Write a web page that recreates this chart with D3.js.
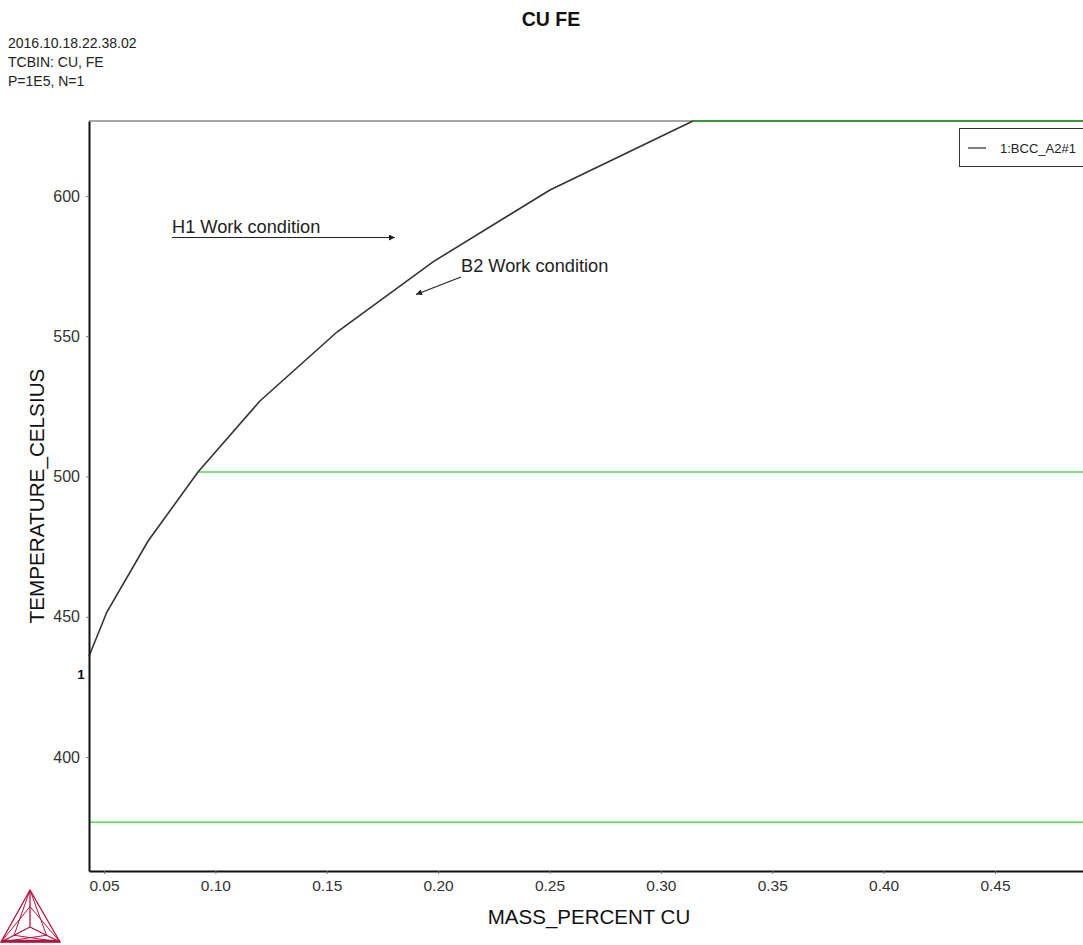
<!DOCTYPE html>
<html>
<head>
<meta charset="utf-8">
<script src="https://cdn.jsdelivr.net/npm/d3@7"></script>
<style>
  html, body { margin: 0; padding: 0; background: #fff; }
  svg { display: block; font-family: "Liberation Sans", Arial, sans-serif; }
</style>
</head>
<body>
<svg id="chart" width="1083" height="945"></svg>
<script>
// Phase boundary of BCC_A2#1 (mass percent Cu vs temperature in Celsius)
const massPercentCu = [0.0433, 0.0513, 0.0698, 0.0922, 0.1200, 0.1546, 0.1977, 0.2502, 0.3144];
const temperatureC  = [436.0, 451.7, 477.0, 501.6, 526.9, 551.5, 576.5, 602.1, 626.7];

// Horizontal invariant lines: [start x, temperature]
const invariantStartX = [0.0922, 0.0433, 0.3144];
const invariantTemp   = [501.6, 376.8, 626.7];

const xTicks = [0.05, 0.10, 0.15, 0.20, 0.25, 0.30, 0.35, 0.40, 0.45];
const yTicks = [400, 450, 500, 550, 600];
const xDomain = [0.04327, 0.4895];
const yDomain = [359.4, 626.7];

const headerLines = ["2016.10.18.22.38.02", "TCBIN: CU, FE", "P=1E5, N=1"];
const legendLabels = ["1:BCC_A2#1"];

const svg = d3.select("#chart");
const plotLeft = 89, plotRight = 1083, plotTop = 121, plotBottom = 871;

const x = d3.scaleLinear().domain(xDomain).range([plotLeft, plotRight]);
const y = d3.scaleLinear().domain(yDomain).range([plotBottom, plotTop]);

// Title and header
svg.append("text").attr("x", 551).attr("y", 26).attr("text-anchor", "middle")
  .attr("font-size", 19.5).attr("font-weight", "bold").attr("fill", "#111").text("CU FE");
headerLines.forEach((t, i) => {
  svg.append("text").attr("x", 8).attr("y", 48 + i * 19)
    .attr("font-size", 14).attr("fill", "#222").text(t);
});

// Top frame line
svg.append("line").attr("x1", plotLeft).attr("x2", plotRight).attr("y1", plotTop).attr("y2", plotTop)
  .attr("stroke", "#888").attr("stroke-width", 1.5);

// Invariant lines
invariantStartX.forEach((sx, i) => {
  const isTop = i === 2;
  svg.append("line")
    .attr("x1", x(sx)).attr("x2", plotRight)
    .attr("y1", y(invariantTemp[i])).attr("y2", y(invariantTemp[i]))
    .attr("stroke", isTop ? "#3a9a3a" : "#4be04b").attr("stroke-width", isTop ? 2 : 1.5);
});

// Phase boundary curve
const pts = massPercentCu.map((v, i) => [v, temperatureC[i]]);
svg.append("path").datum(pts)
  .attr("d", d3.line().x(d => x(d[0])).y(d => y(d[1])))
  .attr("fill", "none").attr("stroke", "#333").attr("stroke-width", 1.6);

// Axes
const xAxis = svg.append("g").attr("transform", `translate(0,${plotBottom})`)
  .call(d3.axisBottom(x).tickValues(xTicks).tickFormat(d3.format(".2f")).tickSize(3).tickSizeOuter(0));
xAxis.select(".domain").attr("stroke", "#111").attr("stroke-width", 2);
xAxis.selectAll(".tick line").attr("stroke", "#777");
xAxis.selectAll(".tick text").attr("font-size", 15.5).attr("fill", "#333")
  .attr("dy", "0.71em").attr("y", 9).attr("font-family", "Liberation Sans, Arial, sans-serif");

const yAxis = svg.append("g").attr("transform", `translate(${plotLeft},0)`)
  .call(d3.axisLeft(y).tickValues(yTicks).tickSize(3).tickSizeOuter(0));
yAxis.select(".domain").attr("stroke", "#111").attr("stroke-width", 2);
yAxis.selectAll(".tick line").attr("stroke", "#777");
yAxis.selectAll(".tick text").attr("font-size", 16).attr("fill", "#333").attr("x", -9)
  .attr("font-family", "Liberation Sans, Arial, sans-serif");

// Line label near curve start
svg.append("text").attr("x", 81).attr("y", 679).attr("text-anchor", "middle")
  .attr("font-size", 13.5).attr("font-weight", "bold").attr("fill", "#111").text("1");

// Axis titles
svg.append("text").attr("x", 589).attr("y", 924).attr("text-anchor", "middle")
  .attr("font-size", 20.5).attr("fill", "#111").text("MASS_PERCENT CU");
svg.append("text").attr("transform", "translate(44,496) rotate(-90)").attr("text-anchor", "middle")
  .attr("font-size", 20.7).attr("fill", "#111").text("TEMPERATURE_CELSIUS");

// Annotations
const defs = svg.append("defs");
defs.append("marker").attr("id", "arrow").attr("viewBox", "0 0 10 10")
  .attr("refX", 10).attr("refY", 5).attr("markerWidth", 8).attr("markerHeight", 6)
  .attr("markerUnits", "userSpaceOnUse").attr("orient", "auto")
  .append("path").attr("d", "M0,0 L10,5 L0,10 z").attr("fill", "#222");

svg.append("text").attr("x", 172).attr("y", 233).attr("font-size", 18.2).attr("fill", "#222")
  .text("H1 Work condition");
svg.append("line").attr("x1", 172).attr("y1", 237.5).attr("x2", 395).attr("y2", 237.5)
  .attr("stroke", "#222").attr("stroke-width", 1.2).attr("marker-end", "url(#arrow)");
svg.append("text").attr("x", 461).attr("y", 272).attr("font-size", 18.2).attr("fill", "#222")
  .text("B2 Work condition");
svg.append("line").attr("x1", 461).attr("y1", 277).attr("x2", 416).attr("y2", 294.5)
  .attr("stroke", "#222").attr("stroke-width", 1.2).attr("marker-end", "url(#arrow)");

// Legend
const lg = svg.append("g");
lg.append("rect").attr("x", 959.5).attr("y", 128.5).attr("width", 125).attr("height", 38)
  .attr("fill", "#fff").attr("stroke", "#333").attr("stroke-width", 1);
lg.append("line").attr("x1", 968).attr("x2", 986).attr("y1", 148).attr("y2", 148)
  .attr("stroke", "#555").attr("stroke-width", 1.5);
lg.append("text").attr("x", 1000).attr("y", 152.5).attr("font-size", 13).attr("fill", "#222")
  .text(legendLabels[0]);

// Logo: nested tetrahedron outline
const logo = svg.append("g").attr("fill", "none").attr("stroke", "#b3123e").attr("stroke-width", 1.3);
const A = [30, 890], B = [1, 942], C = [60, 942], O = [30, 927];
logo.append("path").attr("d", `M${A}L${B}L${C}Z`);
logo.append("path").attr("d", `M${A}L${O}M${B}L${O}M${C}L${O}`);
const inner = (p, t) => [O[0] + (p[0] - O[0]) * t, O[1] + (p[1] - O[1]) * t];
[0.55].forEach(t => {
  const a = inner(A, t), b = inner(B, t), c = inner(C, t);
  logo.append("path").attr("d", `M${a}L${B}M${a}L${C}M${b}L${A}M${b}L${C}M${c}L${A}M${c}L${B}`)
    .attr("stroke-width", 1);
});
logo.append("line").attr("x1", 1).attr("x2", 60).attr("y1", 941).attr("y2", 941)
  .attr("stroke-width", 2.5);
</script>
</body>
</html>
